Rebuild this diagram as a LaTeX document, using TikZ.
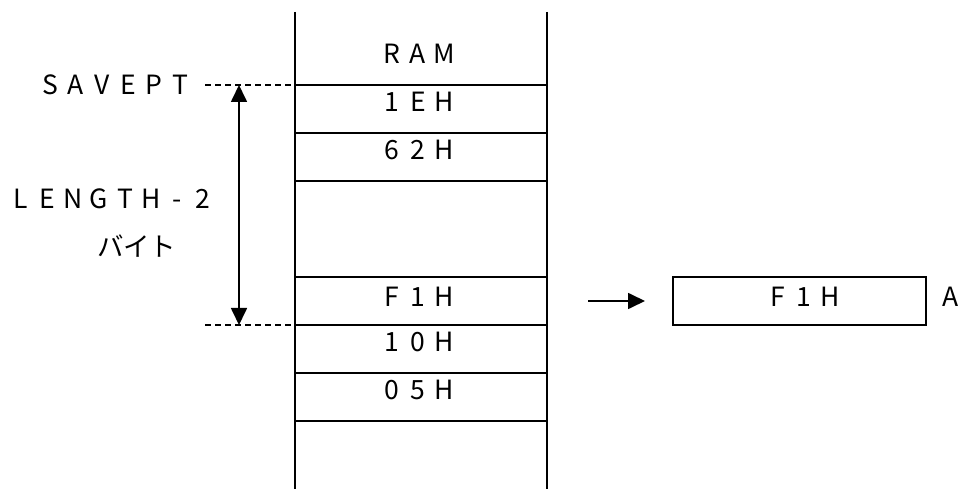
\documentclass[tikz,border=0pt]{standalone}
\usepackage{fontspec}
\newfontfamily\jp{Noto Sans CJK JP}
\usetikzlibrary{arrows.meta}
\newcommand\cellw{26pt}
\def\spc#1{\spcA#1\relax}
\def\spcA#1{\ifx#1\relax\else\makebox[\cellw]{#1}\expandafter\spcA\fi}
\begin{document}
\begin{tikzpicture}[x=1pt,y=-1pt,line width=1.7pt,
  lbl/.style={font=\jp\fontsize{26.5}{26.5}\selectfont,inner sep=0pt,anchor=center},
  rowline/.style={line width=1.7pt},
  dashline/.style={dashed,dash pattern=on 6pt off 4pt,line width=1.3pt},
  tipA/.style={-{Triangle[width=16pt,length=17pt]}},
  tipB/.style={{Triangle[width=16pt,length=17pt]}-{Triangle[width=16pt,length=17pt]}},
  regbox/.style={draw,line width=1.7pt,minimum width=253pt,minimum height=48pt,inner sep=0pt}]
\useasboundingbox (0,0) rectangle (962,489);
% RAM column
\coordinate (cTL) at (295,12);
\coordinate (cBL) at (295,489);
\coordinate (cTR) at (547,12);
\coordinate (cBR) at (547,489);
\draw (cTL) -- (cBL);
\draw (cTR) -- (cBR);
\foreach \yy/\nm in {85/r1,133/r2,181/r3,277/r4,325/r5,373/r6,421/r7}{
  \coordinate (\nm L) at (295,\yy);
  \coordinate (\nm R) at (547,\yy);
  \draw[rowline] (\nm L) -- (\nm R);
}
\node[lbl] (ram) at (418,54) {\spc{RAM}};
\node[lbl] (v1) at (418,102) {\spc{1EH}};
\node[lbl] (v2) at (418,150) {\spc{62H}};
\node[lbl] (v4) at (418,297) {\spc{F1H}};
\node[lbl] (v5) at (418,342) {\spc{10H}};
\node[lbl] (v6) at (418,390) {\spc{05H}};
% dashed guides
\coordinate (d1) at (205,85);
\coordinate (d2) at (205,325);
\draw[dashline] (d1) -- (r1L);
\draw[dashline] (d2) -- (r5L);
% length arrow
\coordinate (aT) at (239,85);
\coordinate (aB) at (239,325);
\draw[tipB] (aT) -- (aB);
% left labels
\node[lbl] (savept) at (115,85) {\spc{SAVEPT}};
\node[lbl] (len) at (112,199) {\spc{LENGTH-2}};
\node[lbl] (byte) at (137,246) {\spc{バイト}};
% register
\node[regbox] (reg) at (799.5,301) {};
\node[lbl] (regv) at (804,297) {\spc{F1H}};
\node[lbl] (regA) at (951,297) {A};
\coordinate (arrS) at (588,301);
\draw[tipA] (arrS) -- (reg.west -| 645,0);
\end{tikzpicture}
\end{document}
